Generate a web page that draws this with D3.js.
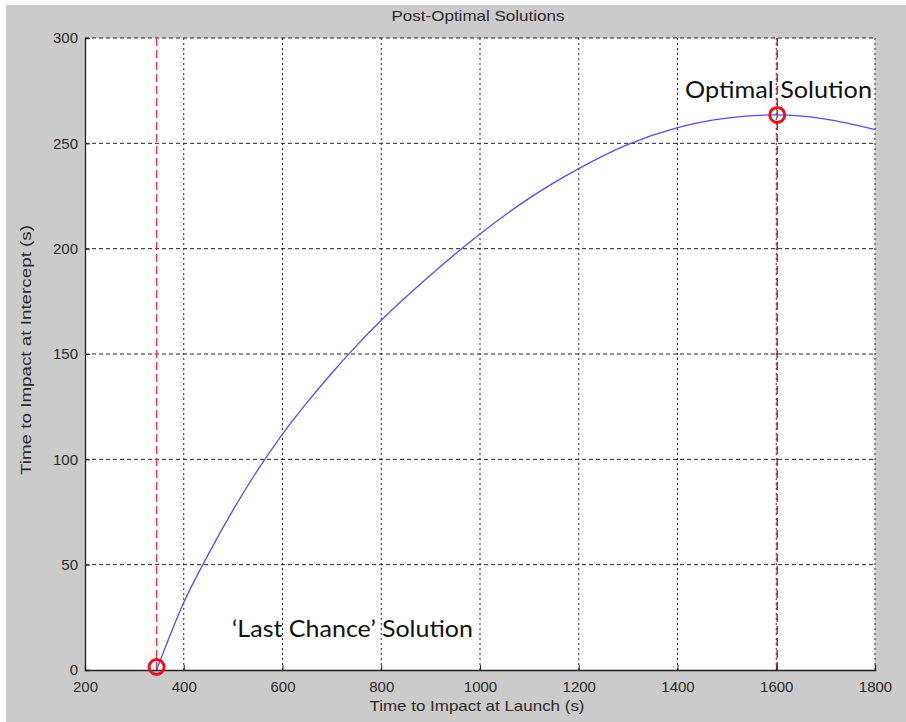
<!DOCTYPE html>
<html><head><meta charset="utf-8">
<script src="https://cdn.jsdelivr.net/npm/d3@7"></script>
<style>body{margin:0;background:#fff}svg{display:block}</style>
</head><body>
<svg id="c" width="906" height="722"></svg>
<script>
const launchTime = [345, 400, 450, 500, 550, 600, 650, 700, 750, 800, 900, 1000, 1100, 1200, 1300, 1400, 1500, 1600, 1700, 1800];
const interceptTime = [0, 32, 55, 76, 95, 112, 127, 141, 154, 166, 187.5, 207, 224, 238, 249.5, 257.5, 262, 263.5, 261.5, 256.5];
const xTicks = [200, 400, 600, 800, 1000, 1200, 1400, 1600, 1800];
const yTicks = [0, 50, 100, 150, 200, 250, 300];
const markerX = [345, 1602];
const markerY = [0, 263.5];
const annotations = ["\u2018Last Chance\u2019 Solution", "Optimal Solution"];
const titleText = "Post-Optimal Solutions";
const xLabel = "Time to Impact at Launch (s)";
const yLabel = "Time to Impact at Intercept (s)";

const svg = d3.select("#c");
svg.append("rect").attr("x",6).attr("y",5).attr("width",900).attr("height",717).attr("fill","#cbcbcb");
const L=85,R=875,T=38,B=670;
const x = d3.scaleLinear().domain([200,1800]).range([L,R]);
const y = d3.scaleLinear().domain([0,300]).range([B,T]);
svg.append("rect").attr("x",L).attr("y",T).attr("width",R-L).attr("height",B-T).attr("fill","#fff");

const g = svg.append("g");
// grid
g.selectAll(".vg").data(xTicks.slice(1)).join("line")
  .attr("x1",d=>x(d)).attr("x2",d=>x(d)).attr("y1",T).attr("y2",B)
  .attr("stroke","#222").attr("stroke-width",1).attr("stroke-dasharray","2,3");
g.selectAll(".hg").data(yTicks.slice(1)).join("line")
  .attr("x1",L).attr("x2",R).attr("y1",d=>y(d)).attr("y2",d=>y(d))
  .attr("stroke","#222").attr("stroke-width",1).attr("stroke-dasharray","4,3");

// red dashed verticals
g.selectAll(".rv").data(markerX).join("line")
  .attr("x1",d=>x(d)).attr("x2",d=>x(d)).attr("y1",T).attr("y2",B)
  .attr("stroke",(d,i)=>i===0?"#e63a4c":"#c8202e").attr("stroke-width",1.5).attr("stroke-dasharray","8,4");

// curve
const pts = launchTime.map((d,i)=>[d,interceptTime[i]]);
g.append("path").datum(pts)
  .attr("d", d3.line().x(d=>x(d[0])).y(d=>y(d[1])).curve(d3.curveMonotoneX))
  .attr("fill","none").attr("stroke","#4f4fec").attr("stroke-width",1.3);

// axes
const fontTick = "15px 'Liberation Sans', Arial, sans-serif";
const xa = g.append("g").attr("transform",`translate(0,${B})`)
  .call(d3.axisBottom(x).tickValues(xTicks).tickSize(-5).tickPadding(8).tickFormat(d3.format("d")));
const ya = g.append("g").attr("transform",`translate(${L},0)`)
  .call(d3.axisLeft(y).tickValues(yTicks).tickSize(-5).tickPadding(7).tickFormat(d3.format("d")));
[xa,ya].forEach(a=>{
  a.select(".domain").attr("stroke","#222").attr("stroke-width",1.3);
  a.selectAll(".tick line").attr("stroke","#222");
  a.selectAll("text").style("font",fontTick).attr("fill","#2a2a2a");
});
xa.selectAll("text").attr("dy","0.95em");

// markers
g.selectAll(".mk").data(markerX).join("circle")
  .attr("cx",(d)=>x(d)).attr("cy",(d,i)=>y(markerY[i])-(i===0?3:0))
  .attr("r",7.5).attr("fill","none").attr("stroke","#e8101c").attr("stroke-width",3);

// annotations
const annFont = "Lato, 'Open Sans', sans-serif";
svg.append("text").attr("x",232).attr("y",637).text(annotations[0])
  .style("font-family",annFont).style("font-size","24px").attr("fill","#111")
  .attr("textLength",241).attr("lengthAdjust","spacingAndGlyphs");
svg.append("text").attr("x",685).attr("y",98).text(annotations[1])
  .style("font-family",annFont).style("font-size","24px").attr("fill","#111")
  .attr("textLength",187).attr("lengthAdjust","spacingAndGlyphs");

// titles
const labFont = "15px 'Liberation Sans', Arial, sans-serif";
svg.append("text").attr("x",478).attr("y",21).attr("text-anchor","middle")
  .style("font","14.5px 'Liberation Sans', Arial, sans-serif").attr("fill","#2a2a2a")
  .attr("textLength",173).attr("lengthAdjust","spacingAndGlyphs").text(titleText);
svg.append("text").attr("x",477).attr("y",711).attr("text-anchor","middle")
  .style("font",labFont).attr("fill","#2a2a2a")
  .attr("textLength",215).attr("lengthAdjust","spacingAndGlyphs").text(xLabel);
svg.append("text").attr("transform",`translate(31,350) rotate(-90)`).attr("text-anchor","middle")
  .style("font",labFont).attr("fill","#2a2a2a")
  .attr("textLength",250).attr("lengthAdjust","spacingAndGlyphs").text(yLabel);
</script>
</body></html>
